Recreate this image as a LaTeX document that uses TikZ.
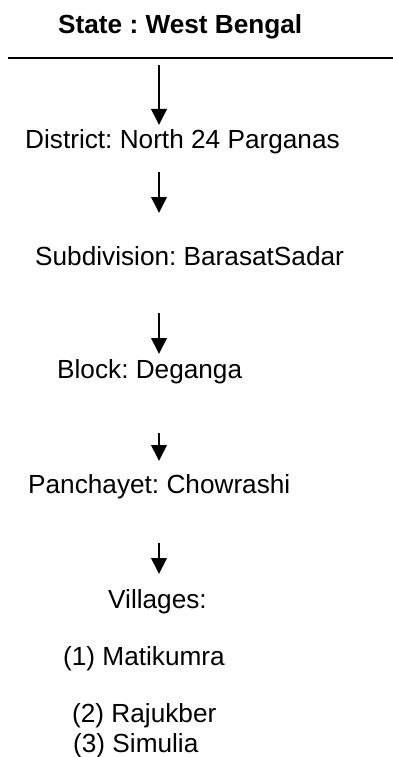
\documentclass[tikz,border=0pt]{standalone}
\usepackage{fontspec}
\setmainfont{Liberation Sans}
\usetikzlibrary{arrows.meta}
\frenchspacing
\tikzset{
  lbl/.style={anchor=base west, inner sep=0pt, font=\fontsize{26.2}{31}\selectfont\frenchspacing},
  ttl/.style={lbl, font=\fontsize{26.2}{31}\selectfont\bfseries\frenchspacing},
  arr/.style={line width=2pt, -{Triangle[length=16pt, width=15.5pt]}},
  rule/.style={line width=2pt}
}
\begin{document}
\begin{tikzpicture}[x=1pt, y=-1pt]
\useasboundingbox (0,0) rectangle (393,757);
\node[ttl] (state) at (58,34) {State : West Bengal};
\coordinate (ruleL) at (8,58.5);
\coordinate (ruleR) at (393,58.5);
\draw[rule] (ruleL) -- (ruleR);
\node[lbl] (district) at (25,148) {District: North 24 Parganas};
\node[lbl] (subdiv) at (35,265) {Subdivision: BarasatSadar};
\node[lbl] (block) at (57,378) {Block: Deganga};
\node[lbl] (panch) at (28,493) {Panchayet: Chowrashi};
\node[lbl] (vill) at (108,608) {Villages:};
\node[lbl] (v1) at (63,665) {(1) Matikumra};
\node[lbl] (v2) at (72,722) {(2) Rajukber};
\node[lbl] (v3) at (73,752) {(3) Simulia};
\coordinate (a1s) at (159,65);  \coordinate (a1e) at (159,125);
\coordinate (a2s) at (159,172); \coordinate (a2e) at (159,213);
\coordinate (a3s) at (159,313); \coordinate (a3e) at (159,354);
\coordinate (a4s) at (159,433); \coordinate (a4e) at (159,461);
\coordinate (a5s) at (159,543); \coordinate (a5e) at (159,574);
\draw[arr] (a1s) -- (a1e);
\draw[arr] (a2s) -- (a2e);
\draw[arr] (a3s) -- (a3e);
\draw[arr] (a4s) -- (a4e);
\draw[arr] (a5s) -- (a5e);
\end{tikzpicture}
\end{document}
